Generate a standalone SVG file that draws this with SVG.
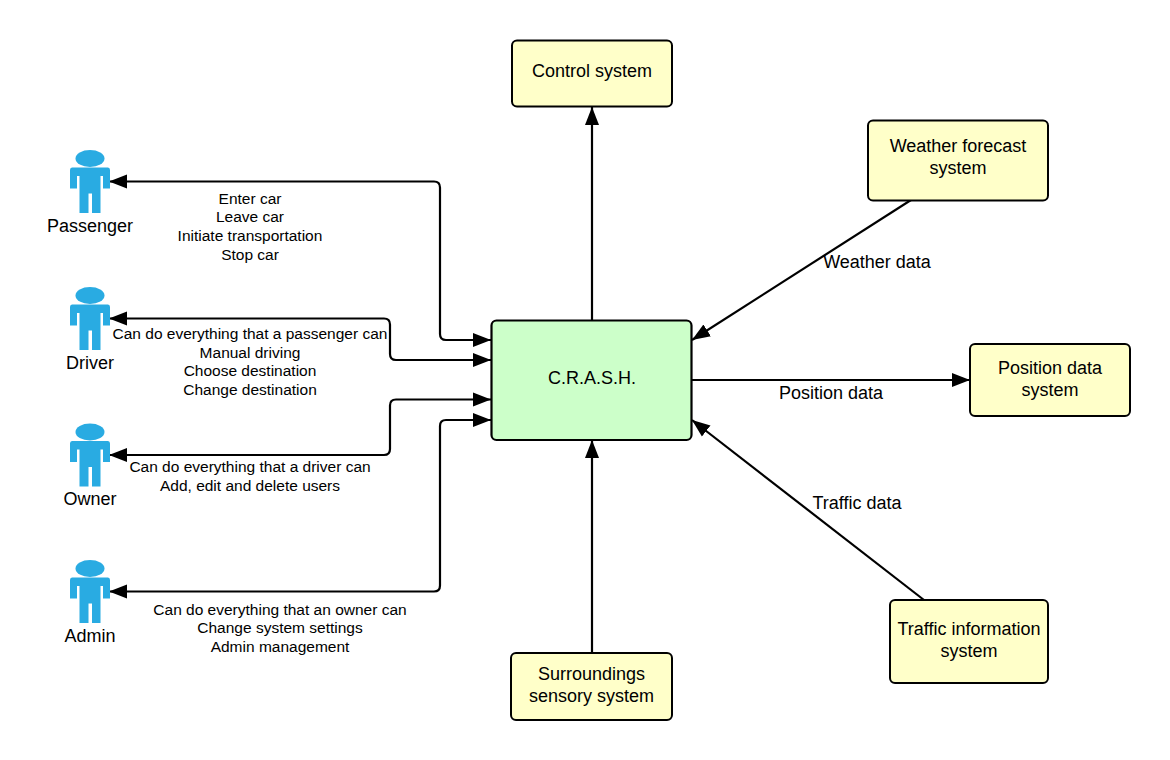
<svg xmlns="http://www.w3.org/2000/svg" width="1170" height="760" viewBox="0 0 1170 760">
<style>
text{font-family:"Liberation Sans",Arial,sans-serif;fill:#000;text-anchor:middle}
.l{font-size:18px}
.s{font-size:15.500px}
.y{fill:#ffffc9;stroke:#000;stroke-width:2}
.c{fill:none;stroke:#000;stroke-width:2.200}
.p{fill:#29abe2}
</style>
<defs>
<marker id="a" markerUnits="userSpaceOnUse" markerWidth="20" markerHeight="16" refX="18" refY="8" orient="auto"><path d="M0 1L18 8L0 15z" fill="#000"/></marker>
<marker id="b" markerUnits="userSpaceOnUse" markerWidth="20" markerHeight="16" refX="18" refY="8" orient="auto-start-reverse"><path d="M0 1L18 8L0 15z" fill="#000"/></marker>
<g id="actor"><ellipse cx="90" cy="158.500" rx="14.500" ry="8.500" class="p"/><path class="p" d="M70 170Q70 167.500 72 167.500H108Q110 167.500 110 170V188.500H103V176H100.500V213H92V193.500H88.500V213H79.500V176H77V188.500H70z"/></g>
</defs>
<rect width="1170" height="760" fill="#fff"/>
<g id="connectors">
<path class="c" marker-start="url(#b)" marker-end="url(#a)" d="M109 181.500H434Q440 181.500 440 187.500V334Q440 340 446 340H491"/>
<path class="c" marker-start="url(#b)" marker-end="url(#a)" d="M109 318.500H384Q390 318.500 390 324.500V354Q390 360 396 360H491"/>
<path class="c" marker-start="url(#b)" marker-end="url(#a)" d="M109 455H384Q390 455 390 449V405.500Q390 399.500 396 399.500H491"/>
<path class="c" marker-start="url(#b)" marker-end="url(#a)" d="M109 591.500H434Q440 591.500 440 585.500V426Q440 420 446 420H491"/>
<path class="c" marker-end="url(#a)" d="M592 320V107"/>
<path class="c" marker-end="url(#a)" d="M911 200L692 340"/>
<path class="c" marker-end="url(#a)" d="M692 380H970"/>
<path class="c" marker-end="url(#a)" d="M924 600L692 420"/>
<path class="c" marker-end="url(#a)" d="M592 653V440"/>
</g>
<g id="crash"><rect class="c" x="491.500" y="320.500" width="200" height="119.500" rx="5" style="fill:#ccffc9"/><text class="l" x="592" y="383.500">C.R.A.S.H.</text></g>
<g id="control"><rect class="y" x="512" y="40.500" width="160" height="66" rx="5"/><text class="l" x="592" y="77">Control system</text></g>
<g id="weather"><rect class="y" x="868" y="120.500" width="180" height="80" rx="5"/><text class="l" x="958" y="152">Weather forecast</text><text class="l" x="958" y="174">system</text></g>
<g id="position"><rect class="y" x="970" y="344" width="160" height="72" rx="5"/><text class="l" x="1050" y="374">Position data</text><text class="l" x="1050" y="396">system</text></g>
<g id="traffic"><rect class="y" x="890" y="600" width="158" height="83" rx="5"/><text class="l" x="969" y="635">Traffic information</text><text class="l" x="969" y="657">system</text></g>
<g id="surroundings"><rect class="y" x="511" y="653" width="161" height="67" rx="5"/><text class="l" x="591.500" y="680">Surroundings</text><text class="l" x="591.500" y="702">sensory system</text></g>
<g id="passenger"><use href="#actor"/><text class="l" x="90" y="232">Passenger</text></g>
<g id="driver"><use href="#actor" y="137"/><text class="l" x="90" y="368.500">Driver</text></g>
<g id="owner"><use href="#actor" y="273.500"/><text class="l" x="90" y="505">Owner</text></g>
<g id="admin"><use href="#actor" y="410"/><text class="l" x="90" y="642">Admin</text></g>
<g id="labels">
<text class="s" x="250" y="203.500">Enter car</text><text class="s" x="250" y="222">Leave car</text><text class="s" x="250" y="241">Initiate transportation</text><text class="s" x="250" y="260">Stop car</text>
<text class="s" x="250" y="339">Can do everything that a passenger can</text><text class="s" x="250" y="357.500">Manual driving</text><text class="s" x="250" y="376">Choose destination</text><text class="s" x="250" y="395">Change destination</text>
<text class="s" x="250" y="472">Can do everything that a driver can</text><text class="s" x="250" y="490.500">Add, edit and delete users</text>
<text class="s" x="280" y="614.500">Can do everything that an owner can</text><text class="s" x="280" y="633">Change system settings</text><text class="s" x="280" y="652">Admin management</text>
<text class="l" x="877" y="267.500">Weather data</text><text class="l" x="831" y="398.500">Position data</text><text class="l" x="857" y="508.500">Traffic data</text>
</g>
</svg>
